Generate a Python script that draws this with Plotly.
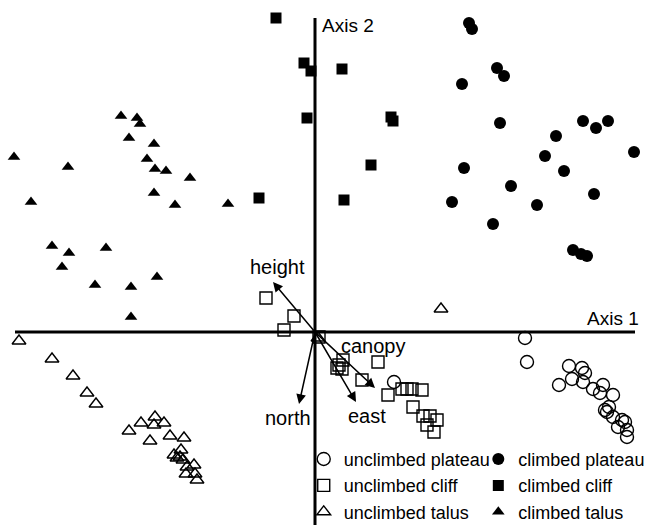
import plotly.graph_objects as go

# Ordination scores (Axis 1, Axis 2)
unclimbed_plateau_x = [0.79, 2.10, 2.12, 2.54, 2.67, 2.70, 2.57, 2.44, 2.68, 2.78, 2.88, 2.85, 2.98, 2.94, 2.90, 2.92, 2.98, 3.07, 3.10, 3.03, 3.12, 3.12]
unclimbed_plateau_y = [-0.50, -0.06, -0.30, -0.34, -0.36, -0.41, -0.47, -0.53, -0.50, -0.57, -0.53, -0.61, -0.63, -0.75, -0.78, -0.80, -0.85, -0.88, -0.90, -0.95, -0.98, -1.05]

climbed_plateau_x = [1.54, 1.57, 1.82, 1.89, 1.47, 1.85, 2.41, 2.68, 2.81, 2.93, 3.19, 2.30, 2.49, 1.49, 1.96, 2.79, 1.37, 2.22, 1.78, 2.58, 2.66, 2.72]
climbed_plateau_y = [3.09, 3.03, 2.64, 2.56, 2.48, 2.09, 1.96, 2.11, 2.04, 2.11, 1.80, 1.76, 1.61, 1.64, 1.46, 1.38, 1.30, 1.27, 1.08, 0.82, 0.78, 0.76]

unclimbed_cliff_x = [-0.49, -0.21, -0.31, 0.04, 0.28, 0.24, 0.27, 0.22, 0.63, 0.47, 0.87, 0.92, 0.97, 1.07, 0.73, 0.98, 1.08, 1.15, 1.12, 1.19, 1.22]
unclimbed_cliff_y = [0.34, 0.16, 0.02, -0.05, -0.28, -0.33, -0.37, -0.36, -0.30, -0.48, -0.57, -0.57, -0.57, -0.58, -0.63, -0.75, -0.84, -0.84, -0.93, -1.00, -0.88]

climbed_cliff_x = [-0.39, -0.11, -0.04, -0.08, -0.56, 0.27, 0.76, 0.78, 0.56, 0.29]
climbed_cliff_y = [3.14, 2.69, 2.61, 2.14, 1.34, 2.63, 2.15, 2.11, 1.67, 1.32]

unclimbed_talus_x = [-2.96, -2.63, -2.42, -2.28, -2.19, 1.26, 0.03, -1.86, -1.74, -1.60, -1.61, -1.51, -1.65, -1.45, -1.31, -1.34, -1.41, -1.38, -1.32, -1.28, -1.21, -1.29, -1.20, -1.18, -1.35]
unclimbed_talus_y = [-0.09, -0.27, -0.44, -0.61, -0.72, 0.23, -0.06, -0.99, -0.91, -0.85, -0.93, -0.91, -1.09, -1.04, -1.06, -1.18, -1.23, -1.26, -1.28, -1.35, -1.33, -1.42, -1.42, -1.48, -1.25]

climbed_talus_x = [-1.94, -1.78, -1.75, -1.86, -1.61, -3.01, -2.47, -1.68, -1.60, -1.49, -1.25, -2.84, -1.61, -1.40, -0.87, -2.63, -2.46, -2.09, -2.53, -2.20, -1.84, -1.58, -1.84]
climbed_talus_y = [2.16, 2.14, 2.08, 1.94, 1.88, 1.75, 1.65, 1.73, 1.63, 1.61, 1.54, 1.30, 1.39, 1.27, 1.28, 0.86, 0.79, 0.84, 0.65, 0.47, 0.45, 0.55, 0.15]

# Environmental vectors
vector_names = ["height", "north", "canopy", "east"]
vector_x = [-0.42, -0.16, 0.60, 0.41]
vector_y = [0.50, -0.72, -0.56, -0.70]
vector_label_x = [-0.38, -0.27, 0.58, 0.52]
vector_label_y = [0.65, -0.86, -0.14, -0.84]

# Drawn axes
axis1_extent = [-3.00, 3.20]
axis2_extent = [-1.95, 3.14]
axis_labels = ["Axis 1", "Axis 2"]

FONT = "Liberation Sans"
fig = go.Figure()

open_line = dict(color="black", width=1.4)
series = [
    ("unclimbed plateau", unclimbed_plateau_x, unclimbed_plateau_y, dict(symbol="circle-open", size=13, color="black", line=open_line), "legend"),
    ("unclimbed cliff", unclimbed_cliff_x, unclimbed_cliff_y, dict(symbol="square-open", size=12, color="black", line=open_line), "legend"),
    ("unclimbed talus", unclimbed_talus_x, unclimbed_talus_y, dict(symbol="triangle-up-open", size=12, color="black", line=open_line), "legend"),
    ("climbed plateau", climbed_plateau_x, climbed_plateau_y, dict(symbol="circle", size=12, color="black"), "legend2"),
    ("climbed cliff", climbed_cliff_x, climbed_cliff_y, dict(symbol="square", size=11, color="black"), "legend2"),
    ("climbed talus", climbed_talus_x, climbed_talus_y, dict(symbol="triangle-up", size=11, color="black"), "legend2"),
]
for name, xs, ys, mk, lg in series:
    fig.add_trace(go.Scatter(x=xs, y=ys, mode="markers", name=name, marker=mk, legend=lg))

shapes = [
    dict(type="line", xref="x", yref="y", x0=axis1_extent[0], x1=axis1_extent[1], y0=0, y1=0,
         line=dict(color="black", width=3)),
    dict(type="line", xref="x", yref="y", x0=0, x1=0, y0=axis2_extent[0], y1=axis2_extent[1],
         line=dict(color="black", width=3)),
]

annotations = []
for name, vx, vy, lx, ly in zip(vector_names, vector_x, vector_y, vector_label_x, vector_label_y):
    annotations.append(dict(x=vx, y=vy, ax=0, ay=0, xref="x", yref="y", axref="x", ayref="y",
                            showarrow=True, arrowhead=2, arrowsize=1.3, arrowwidth=1.5,
                            arrowcolor="black", text=""))
    annotations.append(dict(x=lx, y=ly, xref="x", yref="y", text=name, showarrow=False,
                            font=dict(family=FONT, size=20, color="black")))

annotations.append(dict(x=axis1_extent[1] + 0.06, y=0.14, xref="x", yref="y", text=axis_labels[0],
                        showarrow=False, xanchor="right", font=dict(family=FONT, size=19, color="black")))
annotations.append(dict(x=0.05, y=3.07, xref="x", yref="y", text=axis_labels[1],
                        showarrow=False, xanchor="left", font=dict(family=FONT, size=19, color="black")))

legend_common = dict(orientation="v", yanchor="bottom", y=-0.011, xanchor="left",
                     bgcolor="rgba(0,0,0,0)", font=dict(family=FONT, size=18, color="black"),
                     itemwidth=30, tracegroupgap=0)

fig.update_layout(
    width=649, height=525,
    margin=dict(l=0, r=0, t=0, b=0, autoexpand=False),
    paper_bgcolor="white", plot_bgcolor="white",
    xaxis=dict(range=[-3.15, 3.34], visible=False, showgrid=False, zeroline=False),
    yaxis=dict(range=[-1.93, 3.32], visible=False, showgrid=False, zeroline=False),
    shapes=shapes,
    annotations=annotations,
    showlegend=True,
    legend=dict(x=0.468, **legend_common),
    legend2=dict(x=0.737, **legend_common),
    font=dict(family=FONT, color="black"),
)

fig.write_html("out.html", config={"displayModeBar": False},
               post_script="document.body.style.margin='0px';document.body.style.overflow='hidden';")
